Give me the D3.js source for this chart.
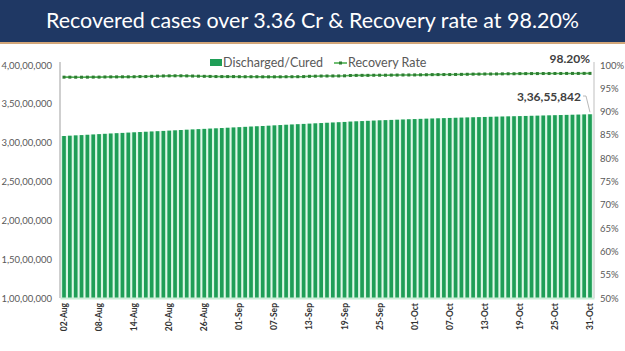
<!DOCTYPE html>
<html>
<head>
<meta charset="utf-8">
<script src="https://cdn.jsdelivr.net/npm/d3@7"></script>
<style>
  body { margin: 0; background: #fff; }
  svg { display: block; font-family: Lato, "Open Sans", sans-serif; }
</style>
</head>
<body>
<div id="chart"></div>
<script>
// daily figures, 02-Aug to 31-Oct
var recovered = [
  30857467, 30896354, 30939020, 30974748, 31015844, 31055861, 31099771, 31139457, 31180968, 31220981,
  31255966, 31294650, 31333725, 31369917, 31403728, 31440079, 31477424, 31513151, 31550659, 31588011,
  31630045, 31668779, 31705000, 31741325, 31775728, 31812317, 31846003, 31883213, 31921263, 31959680,
  31997702, 32036132, 32074531, 32111665, 32147508, 32184520, 32226182, 32267384, 32306002, 32342299,
  32380000, 32415111, 32449725, 32488383, 32525219, 32561722, 32597900, 32633220, 32667700, 32715105,
  32749000, 32779600, 32812000, 32844200, 32876319, 32902000, 32929000, 32955000, 32985000, 33014898,
  33039000, 33063700, 33087800, 33111600, 33135400, 33158000, 33182000, 33205000, 33227500, 33248291,
  33270000, 33290000, 33310000, 33330000, 33349500, 33368000, 33386000, 33403000, 33420000, 33439331,
  33458000, 33477000, 33497000, 33517000, 33537000, 33557000, 33576000, 33595000, 33615000, 33635000,
  33655842
];
var recoveryRate = [
  97.39, 97.39, 97.38, 97.38, 97.39, 97.40, 97.40, 97.43, 97.45, 97.45,
  97.46, 97.46, 97.48, 97.52, 97.52, 97.57, 97.60, 97.65, 97.67, 97.68,
  97.68, 97.66, 97.63, 97.60, 97.57, 97.55, 97.52, 97.51, 97.51, 97.51,
  97.49, 97.48, 97.48, 97.48, 97.46, 97.46, 97.46, 97.46, 97.48, 97.48,
  97.49, 97.51, 97.57, 97.60, 97.63, 97.64, 97.65, 97.65, 97.68, 97.75,
  97.77, 97.78, 97.78, 97.80, 97.81, 97.81, 97.83, 97.84, 97.86, 97.86,
  97.87, 97.89, 97.91, 97.93, 97.94, 97.95, 97.95, 97.97, 97.99, 98.01,
  98.04, 98.05, 98.07, 98.07, 98.08, 98.10, 98.12, 98.12, 98.15, 98.15,
  98.16, 98.16, 98.17, 98.17, 98.18, 98.18, 98.19, 98.19, 98.19, 98.20,
  98.20
];
var xTickLabels = ["02-Aug", "08-Aug", "14-Aug", "20-Aug", "26-Aug", "01-Sep", "07-Sep", "13-Sep",
  "19-Sep", "25-Sep", "01-Oct", "07-Oct", "13-Oct", "19-Oct", "25-Oct", "31-Oct"];
var leftTicks = [10000000, 15000000, 20000000, 25000000, 30000000, 35000000, 40000000];
var rightTicks = [50, 55, 60, 65, 70, 75, 80, 85, 90, 95, 100];

var fmtDay = d3.timeFormat("%d-%b");
var dates = d3.timeDay.range(new Date(2021, 7, 2), new Date(2021, 10, 1)).map(fmtDay);
var data = dates.map(function(d, i) { return {date: d, cured: recovered[i], rate: recoveryRate[i]}; });

// Indian digit grouping: 3,36,55,842
function indian(n) {
  var s = String(Math.round(n));
  var last3 = s.slice(-3), rest = s.slice(0, -3);
  if (rest.length) rest = rest.replace(/\B(?=(\d{2})+(?!\d))/g, ",") + ",";
  return rest + last3;
}

var W = 625, H = 351;
var svg = d3.select("#chart").append("svg").attr("width", W).attr("height", H);

// title banner
svg.append("rect").attr("x", 0).attr("y", 0).attr("width", W).attr("height", 42).attr("fill", "#1f3864");
svg.append("rect").attr("x", 0).attr("y", 42).attr("width", W).attr("height", 2).attr("fill", "#d2a679");
svg.append("text")
  .attr("x", W / 2).attr("y", 28)
  .attr("text-anchor", "middle")
  .attr("fill", "#fff")
  .attr("font-size", 22)
  .attr("textLength", 533).attr("lengthAdjust", "spacingAndGlyphs")
  .text("Recovered cases over 3.36 Cr & Recovery rate at 98.20%");

var x = d3.scaleBand().domain(dates).range([60, 594]).padding(0.37);
var yL = d3.scaleLinear().domain([10000000, 40000000]).range([298, 65]);
var yR = d3.scaleLinear().domain([50, 100]).range([298, 65]);

// bars (mint backing + green bar)
var bw = x.step();
svg.append("g").selectAll("rect")
  .data(data).enter().append("rect")
    .attr("x", function(d) { return x(d.date) - (bw - x.bandwidth()) / 2; })
    .attr("y", function(d) { return yL(d.cured); })
    .attr("width", bw)
    .attr("height", function(d) { return yL(10000000) - yL(d.cured); })
    .attr("fill", "#d6f5e2");
svg.append("g").selectAll("rect")
  .data(data).enter().append("rect")
    .attr("x", function(d) { return x(d.date); })
    .attr("y", function(d) { return yL(d.cured); })
    .attr("width", x.bandwidth())
    .attr("height", function(d) { return yL(10000000) - yL(d.cured); })
    .attr("fill", "#1f9e57");

// left axis
var axL = svg.append("g").attr("transform", "translate(60,0)")
  .call(d3.axisLeft(yL).tickValues(leftTicks).tickSize(0).tickPadding(8).tickFormat(indian));
axL.select(".domain").attr("stroke", "#bfbfbf").attr("stroke-width", 1.5).attr("d", "M0,62V298");
axL.selectAll("text").attr("font-size", 9.5).attr("fill", "#595959").attr("font-family", "Lato");

// right axis
var axR = svg.append("g").attr("transform", "translate(594,0)")
  .call(d3.axisRight(yR).tickValues(rightTicks).tickSize(0).tickPadding(6)
    .tickFormat(function(d) { return d + "%"; }));
axR.select(".domain").attr("stroke", "#bfbfbf").attr("stroke-width", 1).attr("d", "M0,62V298");
axR.selectAll("text").attr("font-size", 9.5).attr("fill", "#595959").attr("font-family", "Lato");

// bottom axis
var axB = svg.append("g").attr("transform", "translate(0,298)")
  .call(d3.axisBottom(x).tickValues(xTickLabels).tickSize(0).tickPadding(0));
axB.select(".domain").attr("stroke", "#c9eed6").attr("stroke-width", 2);
axB.selectAll("text")
  .attr("transform", "rotate(-90)")
  .attr("x", -5).attr("y", 0).attr("dy", "0.35em")
  .style("text-anchor", "end")
  .attr("font-size", 8.5).attr("font-weight", "bold").attr("fill", "#333").attr("font-family", "Lato");

// recovery rate line
var line = d3.line()
  .x(function(d) { return x(d.date) + x.bandwidth() / 2; })
  .y(function(d) { return yR(d.rate); });
svg.append("path").datum(data)
  .attr("d", line).attr("fill", "none").attr("stroke", "#4caf50").attr("stroke-width", 1.6);
svg.append("g").selectAll("rect")
  .data(data).enter().append("rect")
    .attr("x", function(d) { return x(d.date) + x.bandwidth() / 2 - 1.5; })
    .attr("y", function(d) { return yR(d.rate) - 1.5; })
    .attr("width", 3).attr("height", 3)
    .attr("fill", "#2e7d32");

// data labels
var last = data[data.length - 1];
var lx = x(last.date) + x.bandwidth() / 2;
svg.append("text").attr("x", 590).attr("y", 63).attr("text-anchor", "end")
  .attr("font-size", 12).attr("font-weight", "bold").attr("fill", "#404040")
  .text(d3.format(".2f")(last.rate) + "%");
svg.append("text").attr("x", 581).attr("y", 101).attr("text-anchor", "end")
  .attr("font-size", 12).attr("font-weight", "bold").attr("fill", "#404040")
  .text(indian(last.cured));
svg.append("path")
  .attr("d", "M583,96H586L" + lx + "," + (yL(last.cured) - 2))
  .attr("fill", "none").attr("stroke", "#a6a6a6").attr("stroke-width", 0.8);

// legend
var lg = svg.append("g").attr("font-size", 12.5).attr("fill", "#595959");
lg.append("rect").attr("x", 210).attr("y", 59).attr("width", 12).attr("height", 7).attr("fill", "#1f9e57");
lg.append("text").attr("x", 223).attr("y", 67).text("Discharged/Cured");
lg.append("line").attr("x1", 334).attr("x2", 347).attr("y1", 63).attr("y2", 63)
  .attr("stroke", "#4caf50").attr("stroke-width", 1.6);
lg.append("rect").attr("x", 339).attr("y", 61.5).attr("width", 3).attr("height", 3).attr("fill", "#2e7d32");
lg.append("text").attr("x", 348).attr("y", 67).text("Recovery Rate");
</script>
</body>
</html>
